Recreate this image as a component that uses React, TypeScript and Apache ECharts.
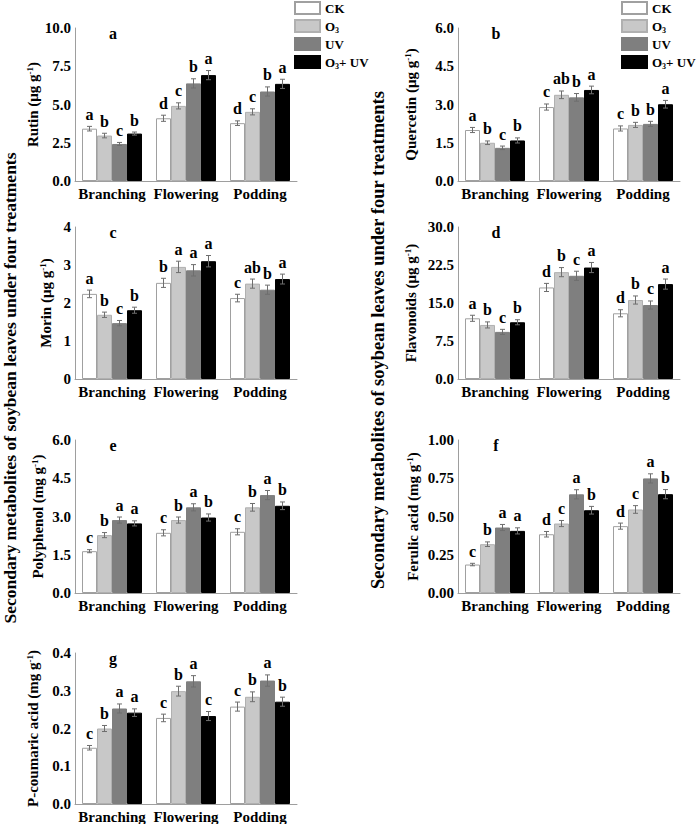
import React, { useEffect, useRef } from 'react';
import * as echarts from 'echarts';

const stages = ['Branching', 'Flowering', 'Podding'];
const treatments = ['CK', 'O3', 'UV', 'O3+ UV'];

// each array: [stage][treatment] (CK, O3, UV, O3+UV)
const rutinMeans = [[3.42, 2.97, 2.42, 3.1], [4.1, 4.91, 6.38, 6.92], [3.78, 4.52, 5.85, 6.35]];
const rutinErrors = [[0.15, 0.15, 0.1, 0.1], [0.2, 0.2, 0.3, 0.3], [0.15, 0.2, 0.3, 0.3]];
const rutinLetters = [['a', 'b', 'c', 'b'], ['d', 'c', 'b', 'a'], ['d', 'c', 'b', 'a']];

const quercetinMeans = [[2.0, 1.5, 1.3, 1.59], [2.9, 3.38, 3.28, 3.57], [2.06, 2.2, 2.24, 3.01]];
const quercetinErrors = [[0.1, 0.07, 0.07, 0.1], [0.12, 0.15, 0.15, 0.15], [0.1, 0.1, 0.1, 0.15]];
const quercetinLetters = [['a', 'b', 'c', 'b'], ['c', 'ab', 'b', 'a'], ['c', 'b', 'b', 'a']];

const morinMeans = [[2.24, 1.69, 1.47, 1.81], [2.53, 2.95, 2.86, 3.1], [2.13, 2.51, 2.35, 2.63]];
const morinErrors = [[0.1, 0.07, 0.07, 0.08], [0.12, 0.15, 0.15, 0.15], [0.1, 0.12, 0.12, 0.13]];
const morinLetters = [['a', 'b', 'c', 'b'], ['b', 'a', 'a', 'a'], ['c', 'ab', 'b', 'a']];

const flavonoidMeans = [[11.98, 10.67, 9.3, 11.2], [18.07, 21.09, 20.37, 22.0], [12.97, 15.59, 14.6, 18.73]];
const flavonoidErrors = [[0.6, 0.6, 0.5, 0.5], [0.8, 0.9, 0.9, 1.0], [0.7, 0.8, 0.8, 1.0]];
const flavonoidLetters = [['a', 'b', 'c', 'b'], ['d', 'b', 'c', 'a'], ['d', 'b', 'c', 'a']];

const polyphenolMeans = [[1.64, 2.27, 2.86, 2.73], [2.36, 2.86, 3.36, 2.96], [2.4, 3.36, 3.84, 3.42]];
const polyphenolErrors = [[0.06, 0.1, 0.12, 0.1], [0.12, 0.12, 0.14, 0.14], [0.12, 0.15, 0.18, 0.15]];
const polyphenolLetters = [['c', 'b', 'a', 'a'], ['c', 'b', 'a', 'b'], ['c', 'b', 'a', 'b']];

const ferulicMeans = [[0.186, 0.319, 0.428, 0.406], [0.384, 0.454, 0.645, 0.541], [0.437, 0.546, 0.749, 0.646]];
const ferulicErrors = [[0.008, 0.015, 0.02, 0.02], [0.018, 0.02, 0.03, 0.025], [0.02, 0.025, 0.03, 0.03]];
const ferulicLetters = [['c', 'b', 'a', 'a'], ['d', 'c', 'a', 'b'], ['d', 'c', 'a', 'b']];

const coumaricMeans = [[0.149, 0.2, 0.253, 0.242], [0.228, 0.299, 0.325, 0.233], [0.258, 0.284, 0.327, 0.271]];
const coumaricErrors = [[0.006, 0.008, 0.012, 0.01], [0.01, 0.013, 0.015, 0.012], [0.012, 0.013, 0.015, 0.012]];
const coumaricLetters = [['c', 'b', 'a', 'a'], ['c', 'b', 'a', 'c'], ['c', 'b', 'a', 'b']];

const FONT = '"Liberation Serif", "Times New Roman", serif';
const BAR_W = 15;
const barStyles = [
  { color: '#ffffff', borderColor: '#a0a0a0', borderWidth: 1 },
  { color: '#c8c8c8', borderColor: '#b0b0b0', borderWidth: 1 },
  { color: '#7f7f7f', borderColor: '#7f7f7f', borderWidth: 1 },
  { color: '#000000', borderColor: '#000000', borderWidth: 1 },
];

const panels = [
  { tag: 'a', name: 'Rutin (μg g{sup|-1})', means: rutinMeans, errs: rutinErrors, letters: rutinLetters, max: 10, step: 2.5, dec: 1, left: 75, top: 28, h: 153, gap: 30 },
  { tag: 'b', name: 'Quercetin (μg g{sup|-1})', means: quercetinMeans, errs: quercetinErrors, letters: quercetinLetters, max: 6, step: 1.5, dec: 1, left: 458, top: 28, h: 153, gap: 40 },
  { tag: 'c', name: 'Morin (μg g{sup|-1})', means: morinMeans, errs: morinErrors, letters: morinLetters, max: 4, step: 1, dec: 0, left: 75, top: 227, h: 152, gap: 22 },
  { tag: 'd', name: 'Flavonoids (μg g{sup|-1})', means: flavonoidMeans, errs: flavonoidErrors, letters: flavonoidLetters, max: 30, step: 7.5, dec: 1, left: 458, top: 227, h: 152, gap: 40 },
  { tag: 'e', name: 'Polyphenol (mg g{sup|-1})', means: polyphenolMeans, errs: polyphenolErrors, letters: polyphenolLetters, max: 6, step: 1.5, dec: 1, left: 75, top: 440, h: 153, gap: 30 },
  { tag: 'f', name: 'Ferulic acid (mg g{sup|-1})', means: ferulicMeans, errs: ferulicErrors, letters: ferulicLetters, max: 1, step: 0.25, dec: 2, left: 458, top: 440, h: 153, gap: 38 },
  { tag: 'g', name: 'P-coumaric acid (mg g{sup|-1})', means: coumaricMeans, errs: coumaricErrors, letters: coumaricLetters, max: 0.4, step: 0.1, dec: 1, left: 75, top: 653, h: 152, gap: 35 },
];

function buildOption() {
  const grid: any[] = [];
  const xAxis: any[] = [];
  const yAxis: any[] = [];
  const series: any[] = [];
  const graphic: any[] = [];

  panels.forEach((p, gi) => {
    grid.push({ left: p.left, top: p.top, width: 222, height: p.h });
    xAxis.push({
      type: 'category', gridIndex: gi, data: stages,
      axisLine: { lineStyle: { color: '#9e9e9e', width: 1 } },
      axisTick: { show: false },
      axisLabel: { interval: 0, color: '#000', fontSize: 15, fontWeight: 'bold', fontFamily: FONT, margin: 5 },
    });
    yAxis.push({
      type: 'value', gridIndex: gi, min: 0, max: p.max, interval: p.step,
      splitLine: { show: false },
      axisLine: { show: true, lineStyle: { color: '#9e9e9e', width: 1 } },
      axisTick: { show: false },
      axisLabel: {
        color: '#000', fontSize: 15, fontWeight: 'bold', fontFamily: FONT, margin: 4,
        formatter: (v: number) => v.toFixed(p.dec),
      },
      name: p.name, nameLocation: 'middle', nameGap: p.gap,
      nameTextStyle: {
        color: '#000', fontSize: 15, fontWeight: 'bold', fontFamily: FONT,
        rich: { sup: { fontSize: 9, fontWeight: 'bold', fontFamily: FONT, color: '#000', verticalAlign: 'top' } },
      },
    });
    treatments.forEach((t, ti) => {
      series.push({
        type: 'bar', name: t, xAxisIndex: gi, yAxisIndex: gi,
        barWidth: BAR_W, barGap: '0%',
        itemStyle: barStyles[ti],
        data: stages.map((_, si) => p.means[si][ti]),
      });
    });
    const custData: any[] = [];
    const letterFlat: string[] = [];
    stages.forEach((_, si) => {
      treatments.forEach((_, ti) => {
        custData.push([si, ti, p.means[si][ti], p.errs[si][ti]]);
        letterFlat.push(p.letters[si][ti]);
      });
    });
    series.push({
      type: 'custom', xAxisIndex: gi, yAxisIndex: gi, z: 5, clip: false,
      encode: { x: 0, y: 2 },
      data: custData,
      renderItem: (params: any, api: any) => {
        const s = api.value(0);
        const t = api.value(1);
        const v = api.value(2);
        const e = api.value(3);
        const c = api.coord([s, v]);
        const top = api.coord([s, v + e])[1];
        const bot = api.coord([s, v - e])[1];
        const x = c[0] + (t - 1.5) * BAR_W;
        const ls = { stroke: '#6e6e6e', lineWidth: 1 };
        return {
          type: 'group',
          children: [
            { type: 'line', shape: { x1: x, y1: top, x2: x, y2: bot }, style: ls },
            { type: 'line', shape: { x1: x - 2.5, y1: top, x2: x + 2.5, y2: top }, style: ls },
            { type: 'line', shape: { x1: x - 2.5, y1: bot, x2: x + 2.5, y2: bot }, style: ls },
            {
              type: 'text', x, y: top - 4,
              style: {
                text: letterFlat[params.dataIndex], fill: '#000', fontSize: 16, fontWeight: 'bold',
                fontFamily: FONT, align: 'center', verticalAlign: 'bottom',
              },
            },
          ],
        };
      },
    });
    graphic.push({
      type: 'text', x: p.left + 38, y: p.top + 5,
      style: { text: p.tag, fill: '#000', fontSize: 16, fontWeight: 'bold', fontFamily: FONT, align: 'center', verticalAlign: 'middle' },
    });
  });

  const bigLabel = 'Secondary metabolites of soybean leaves under four treatments';
  graphic.push({
    type: 'text', x: 10, y: 388, rotation: Math.PI / 2,
    style: { text: bigLabel, fill: '#000', fontSize: 17.5, fontWeight: 'bold', fontFamily: FONT, align: 'center', verticalAlign: 'middle' },
  });
  graphic.push({
    type: 'text', x: 378, y: 340, rotation: Math.PI / 2,
    style: { text: bigLabel, fill: '#000', fontSize: 18.5, fontWeight: 'bold', fontFamily: FONT, align: 'center', verticalAlign: 'middle' },
  });

  const legendBase = {
    orient: 'vertical', data: treatments, icon: 'rect', itemWidth: 25, itemHeight: 12, itemGap: 3,
    selectedMode: false, padding: 0,
    formatter: (n: string) => n.replace('O3', 'O{sub|3}'),
    textStyle: {
      color: '#000', fontSize: 13, fontWeight: 'bold', fontFamily: FONT, lineHeight: 14,
      rich: { sub: { fontSize: 8, fontWeight: 'bold', fontFamily: FONT, color: '#000', verticalAlign: 'bottom', lineHeight: 16 } },
    },
  };

  return {
    animation: false,
    backgroundColor: '#ffffff',
    grid, xAxis, yAxis, series, graphic,
    legend: [
      { ...legendBase, left: 294, top: 1 },
      { ...legendBase, left: 621, top: 1 },
    ],
  };
}

export default function App() {
  const ref = useRef<HTMLDivElement>(null);
  useEffect(() => {
    if (!ref.current) return;
    const chart = echarts.init(ref.current, undefined, { renderer: 'svg' });
    chart.setOption(buildOption() as any);
    return () => chart.dispose();
  }, []);
  return <div ref={ref} style={{ position: 'absolute', left: 0, top: 0, width: 696, height: 824 }} />;
}
